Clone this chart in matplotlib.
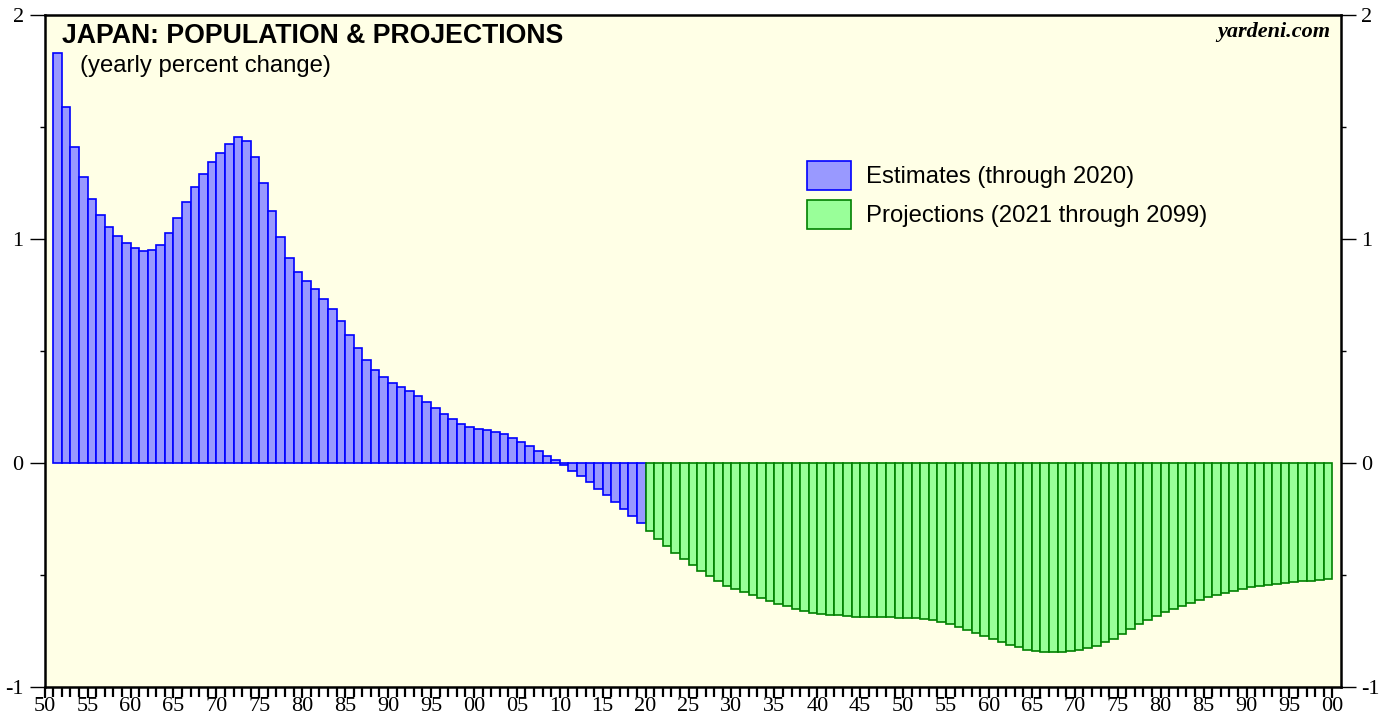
import matplotlib.pyplot as plt
from matplotlib.ticker import MultipleLocator, FixedLocator, FixedFormatter
import numpy as np

plt.rcParams['font.family'] = ['Liberation Sans', 'DejaVu Sans']

# yearly percent change
est_years = np.arange(1951, 2020)
est_pct = [1.829, 1.591, 1.412, 1.278, 1.179, 1.107, 1.055, 1.015, 0.984, 0.960,
           0.948, 0.949, 0.973, 1.028, 1.095, 1.167, 1.231, 1.290, 1.342, 1.384,
           1.426, 1.454, 1.436, 1.365, 1.251, 1.125, 1.009, 0.915, 0.853, 0.812,
           0.777, 0.734, 0.686, 0.632, 0.571, 0.513, 0.460, 0.417, 0.383, 0.359,
           0.341, 0.320, 0.301, 0.274, 0.247, 0.220, 0.195, 0.176, 0.162, 0.153,
           0.147, 0.140, 0.128, 0.113, 0.094, 0.074, 0.054, 0.033, 0.012, -0.010,
           -0.034, -0.059, -0.086, -0.115, -0.144, -0.174, -0.204, -0.237, -0.269]

proj_years = np.arange(2020, 2100)
proj_pct = [-0.302, -0.338, -0.371, -0.402, -0.430, -0.457, -0.482, -0.506, -0.528, -0.548,
            -0.563, -0.576, -0.589, -0.601, -0.615, -0.628, -0.640, -0.650, -0.661, -0.668,
            -0.673, -0.677, -0.680, -0.684, -0.686, -0.688, -0.688, -0.689, -0.689, -0.690,
            -0.691, -0.694, -0.696, -0.701, -0.709, -0.719, -0.732, -0.745, -0.758, -0.771,
            -0.784, -0.797, -0.811, -0.823, -0.835, -0.841, -0.842, -0.845, -0.845, -0.841,
            -0.836, -0.826, -0.815, -0.801, -0.786, -0.765, -0.743, -0.720, -0.701, -0.682,
            -0.667, -0.653, -0.638, -0.626, -0.613, -0.600, -0.589, -0.579, -0.570, -0.561,
            -0.554, -0.549, -0.545, -0.540, -0.536, -0.533, -0.528, -0.525, -0.522, -0.518]

year_ticks = np.arange(1950, 2101, 5)
year_labels = ["%02d" % (y % 100) for y in year_ticks]

serif = ['Liberation Serif', 'DejaVu Serif']

fig = plt.figure(figsize=(13.92, 7.21), dpi=100)
ax = fig.add_axes([44.5 / 1392, 34 / 721, 1296 / 1392, 672 / 721])
ax.set_facecolor('#FFFFE6')

est = ax.bar(est_years, est_pct, width=1.0, align='edge', color='#9999FF',
             edgecolor='#0000FF', linewidth=1.2, label='Estimates (through 2020)')
proj = ax.bar(proj_years, proj_pct, width=1.0, align='edge', color='#99FF99',
              edgecolor='#008000', linewidth=1.2, label='Projections (2021 through 2099)')

ax.set_xlim(1949.975, 2100.95)
ax.set_ylim(-1, 2)

# axes frame
for side in ['left', 'right', 'top', 'bottom']:
    ax.spines[side].set_linewidth(1.8)
    ax.spines[side].set_color('black')

# y ticks on both sides
ax.yaxis.set_major_locator(MultipleLocator(1))
ax.yaxis.set_minor_locator(MultipleLocator(0.5))
ax.yaxis.set_major_formatter(plt.FuncFormatter(lambda v, p: "%d" % v))
ax.tick_params(axis='y', which='major', direction='out', length=11, width=1.0,
               left=True, right=True, labelleft=True, labelright=True, pad=4)
ax.tick_params(axis='y', which='minor', direction='out', length=3.8, width=1.0,
               left=True, right=True)

# x ticks every year, labels every 5
ax.xaxis.set_major_locator(FixedLocator(year_ticks))
ax.xaxis.set_major_formatter(FixedFormatter(year_labels))
ax.xaxis.set_minor_locator(MultipleLocator(1))
ax.tick_params(axis='x', which='major', direction='out', length=8, width=1.6, pad=-1)
ax.tick_params(axis='x', which='minor', direction='out', length=7, width=1.6)

for t in ax.xaxis.get_major_ticks() + ax.yaxis.get_major_ticks():
    for lab in (t.label1, t.label2):
        lab.set_family(serif)
        lab.set_fontsize(16)

ax.text(0.0135, 0.958, "JAPAN: POPULATION & PROJECTIONS", transform=ax.transAxes,
        fontsize=19.2, fontweight='bold', va='baseline', ha='left')
ax.text(0.0275, 0.915, "(yearly percent change)", transform=ax.transAxes,
        fontsize=17.2, va='baseline', ha='left')
ax.text(0.9919, 0.967, "yardeni.com", transform=ax.transAxes,
        fontsize=16, fontweight='bold', style='italic', va='baseline', ha='right',
        family=serif)

ax.legend(handles=[est, proj], loc='upper left',
          bbox_to_anchor=((807 - 44.5) / 1296, (687 - 161) / 672),
          frameon=False, fontsize=17.2, borderpad=0, borderaxespad=0,
          handlelength=1.84, handleheight=1.48, handletextpad=0.63, labelspacing=0.42)

fig.savefig("out.png", dpi=100)
